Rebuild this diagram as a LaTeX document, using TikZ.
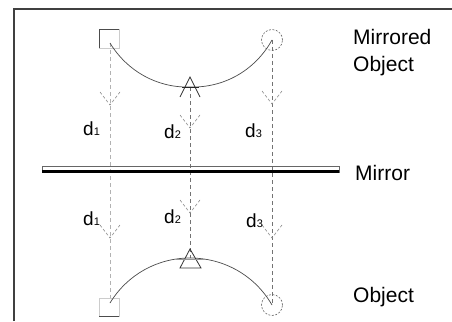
\documentclass[tikz,border=0pt]{standalone}
\usepackage{fontspec}
\setmainfont{Liberation Sans}
\usetikzlibrary{calc}
\begin{document}
\begin{tikzpicture}[x=1pt,y=-1pt,
  frame/.style={draw=black!75,line width=1.5pt},
  guide/.style={draw=black!30,dash pattern=on 4pt off 3pt,line width=0.6pt},
  guidedark/.style={draw=black!55,dash pattern=on 4pt off 3pt,line width=0.6pt},
  vhead/.style={draw=black!45,dash pattern=on 3pt off 2pt,line width=0.6pt},
  curve/.style={draw=black!70,line width=0.7pt},
  ring/.style={circle,draw=black!60,dash pattern=on 2pt off 1.5pt,line width=0.6pt,minimum size=21pt,inner sep=0pt},
  label/.style={font=\fontsize{21}{24}\selectfont,anchor=base west,inner sep=0pt},
  dlab/.style={anchor=base west,inner sep=0pt}
]
\useasboundingbox (0,0) rectangle (452,321);
\fill[white] (0,0) rectangle (452,321);
% frame
\draw[frame] (14,321) -- (14,9) -- (453,9);

% key points
\coordinate (ms) at (110,43);
\coordinate (mt) at (190,87);
\coordinate (mc) at (272,40);
\coordinate (os) at (110,303);
\coordinate (ot) at (190,258);
\coordinate (oc) at (272,305);

% vertical guides
\draw[guide] (ms) -- (os);
\draw[guidedark] (mt) -- (ot);
\draw[guidedark] (mc) -- (oc);

% squares
\draw[black!20,line width=0.6pt] (99,29) rectangle (119,48);
\draw[black!70,line width=0.8pt] (99,48) -- (99,29) -- (119,29);
\draw[black!20,line width=0.6pt] (99,298) rectangle (119,316);
\draw[black!70,line width=1pt] (99,316) -- (119,316);

% circles
\node[ring] (mcirc) at (272,40) {};
\node[ring] (ocirc) at (272,305) {};

% arcs
\draw[curve] (ms) .. controls (127,71) and (157,88) .. (mt)
  .. controls (224,88) and (255,70.5) .. (mc);
\draw[curve] (os) .. controls (127,275) and (157,258) .. (ot)
  .. controls (224,258) and (255,275.5) .. (oc);

% triangles
\draw[black!80,line width=0.8pt] (180,97) -- (190,77) -- (200,97);
\draw[black!85,line width=1pt] (182,87) -- (199,87);
\draw[black!80,line width=0.8pt] (190,249) -- (180,268) -- (201,268) -- cycle;
\draw[black!40,line width=0.6pt] (176,259) -- (205,259);

% arrowheads
\foreach \n/\x/\y in {a1/110/105,a2/190/128,a3/272/104,b1/110/238,b2/190/213,b3/272/238}{
  \coordinate (\n) at (\x,\y);
  \draw[vhead] ($(\n)+(-10,-13)$) -- (\n) -- ($(\n)+(10,-13)$);
}

% mirror
\draw[black!60,line width=0.8pt] (42,166) rectangle (339,172);
\draw[black,line width=3pt] (42,171) -- (339,171);

% labels
\node[label] (lm1) at (353,45) {Mirrored};
\node[label] (lm2) at (353,71) {Object};
\node[label] (lmir) at (355,180) {Mirror};
\node[label] (lob) at (353,302) {Object};

\node[dlab] (d1u) at (83,135) {\fontsize{19}{20}\selectfont d\fontsize{11}{12}\selectfont 1};
\node[dlab] (d2u) at (164,138) {\fontsize{19}{20}\selectfont d\fontsize{11}{12}\selectfont 2};
\node[dlab] (d3u) at (245,137) {\fontsize{19}{20}\selectfont d\fontsize{11}{12}\selectfont 3};
\node[dlab] (d1l) at (83,225) {\fontsize{19}{20}\selectfont d\fontsize{11}{12}\selectfont 1};
\node[dlab] (d2l) at (164,223) {\fontsize{19}{20}\selectfont d\fontsize{11}{12}\selectfont 2};
\node[dlab] (d3l) at (246,227) {\fontsize{19}{20}\selectfont d\fontsize{11}{12}\selectfont 3};
\end{tikzpicture}
\end{document}
